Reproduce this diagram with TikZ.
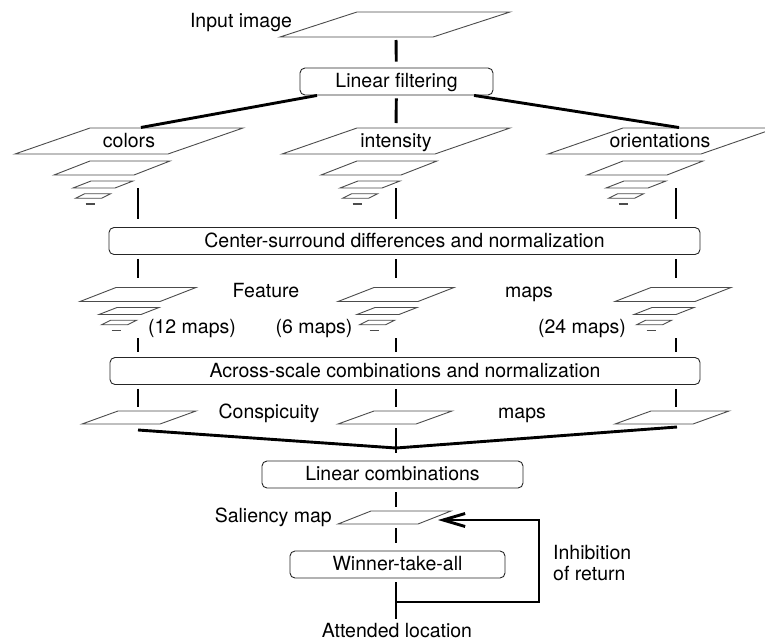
\documentclass[tikz,border=0pt]{standalone}
\usepackage{fontspec}
\setmainfont{TeX Gyre Heros}
\usetikzlibrary{arrows.meta,calc}

% one flat map seen in perspective: centre x, centre y, width, skew, height
\newcommand{\slab}[5]{%
  \filldraw[fill=white, draw=gray!60!black, line width=0.9]
  ({#1-#3/2-#4/2},{#2+#5/2}) -- ++(#3,0) -- ++(#4,{-#5}) -- ++({-#3},0) -- cycle;}
% pyramid of smaller maps, (#1,#2) = centre of its top layer
\newcommand{\smallpyr}[2]{%
  \slab{#1}{#2}{80}{36}{14}
  \slab{#1-9}{#2+16.5}{42}{18}{7}
  \slab{#1-19}{#2+28}{26}{9}{4.5}
  \draw[gray!60!black, line width=1.2] ({#1-26.5},{#2+36}) -- ++(9,0);}
% same pyramid with the large map on top
\newcommand{\bigpyr}[2]{\slab{#1+17}{#2-27}{153}{75}{26}\smallpyr{#1}{#2}}

\begin{document}
\begin{tikzpicture}[x=1pt, y=-1pt, font=\fontsize{19.5}{22}\selectfont,
  box/.style={draw=gray!30!black, line width=0.9, rounded corners=5, minimum height=27,
    text height=15, text depth=3, inner sep=0},
  lbl/.style={inner sep=0, anchor=base},
  link/.style={line width=2.9, black},
  >={Straight Barb[length=22pt, width=13pt]}]
\useasboundingbox (0,0) rectangle (765,643);
% Input image and linear filtering
\node[lbl] (inimg) at (241,27) {Input image};
\slab{395}{24.5}{153}{77}{25}
\coordinate (img) at (396,37);
\node[box, minimum width=193] (filt) at (396.5,81.5) {Linear filtering};
% three channels
\bigpyr{112}{168}
\bigpyr{379}{168}
\bigpyr{645}{168}
\node[lbl] (colors) at (129,147) {colors};
\node[lbl] (intens) at (396,147) {intensity};
\node[lbl] (orient) at (660,147) {orientations};
\coordinate (col-in) at (138,128);
\coordinate (int-in) at (396,128);
\coordinate (ori-in) at (682,128);
\coordinate (col-out) at (138,188);
\coordinate (int-out) at (396,188);
\coordinate (ori-out) at (676,188);
\node[box, minimum width=591] (cs) at (404.5,241) {Center-surround differences and normalization};
% feature maps
\smallpyr{138}{294.5}
\smallpyr{396}{294.5}
\smallpyr{673}{294.5}
\node[lbl] (feat) at (266,297) {Feature};
\node[lbl] (fmaps) at (529,297) {maps};
\node[lbl] (n12) at (192,333) {(12 maps)};
\node[lbl] (n6) at (314,333) {(6 maps)};
\node[lbl] (n24) at (582,333) {(24 maps)};
\foreach \p/\x in {col/138, int/396, ori/676} {
  \coordinate (f\p-in) at (\x,287);
  \coordinate (f\p-out) at (\x,338);
  \coordinate (c\p-in) at (\x,411);
}
\node[box, minimum width=590] (as) at (405,371) {Across-scale combinations and normalization};
% conspicuity maps
\slab{139}{417.5}{78}{36}{13}
\slab{395}{417.5}{78}{36}{13}
\slab{672}{417.5}{78}{36}{13}
\node[lbl] (consp) at (269,418) {Conspicuity};
\node[lbl] (cmaps) at (522,418) {maps};
\coordinate (ccol-out) at (138,430);
\coordinate (cint-out) at (396,428);
\coordinate (cori-out) at (677,427);
\coordinate (merge) at (396,448);
\node[box, minimum width=261] (lc) at (392.5,474.5) {Linear combinations};
% saliency map and winner-take-all
\slab{394.5}{517.5}{80}{33}{13}
\node[lbl, anchor=base east] (sal) at (332,522) {Saliency map};
\coordinate (sal-in) at (396,511);
\coordinate (sal-out) at (396,524);
\coordinate (sal-r) at (438,520);
\node[box, minimum width=215] (wta) at (397.5,564.5) {Winner-take-all};
\node[lbl] (att) at (397,637) {Attended location};
\node[lbl, anchor=base west] (inh-a) at (553,559) {Inhibition};
\node[lbl, anchor=base west] (inh-b) at (553,580) {of return};
\coordinate (ret) at (396,602);
\coordinate (turn) at (539,520);
% connectors
\draw[link, shorten <=3, shorten >=6] (img) -- (filt);
\draw[link, shorten >=3] ($(filt.south west)!0.09!(filt.south east)$) -- (col-in);
\draw[link, shorten <=3, shorten >=5] (filt) -- (int-in);
\draw[link, shorten >=3] ($(filt.south west)!0.9!(filt.south east)$) -- (ori-in);
\foreach \p in {col,int,ori} {
  \draw[link, shorten >=8] (\p-out) -- (\p-out |- cs.north);
  \draw[link, shorten <=4, shorten >=9] (f\p-in |- cs.south) -- (f\p-in);
  \draw[link, shorten >=5] (f\p-out) -- (f\p-out |- as.north);
  \draw[link, shorten <=4, shorten >=4] (c\p-in |- as.south) -- (c\p-in);
}
\draw[link] (ccol-out) -- (merge) -- (cori-out);
\draw[link, shorten >=8] (cint-out) -- (cint-out |- lc.north);
\draw[link, shorten <=4, shorten >=4] (sal-in |- lc.south) -- (sal-in);
\draw[link, shorten <=4, shorten >=8] (sal-out) -- (sal-out |- wta.north);
\draw[link, shorten <=4, shorten >=4] (sal-out |- wta.south) -- (sal-out |- att.north);
\draw[link, ->] (ret) -| (turn) -- (sal-r);
\end{tikzpicture}
\end{document}
